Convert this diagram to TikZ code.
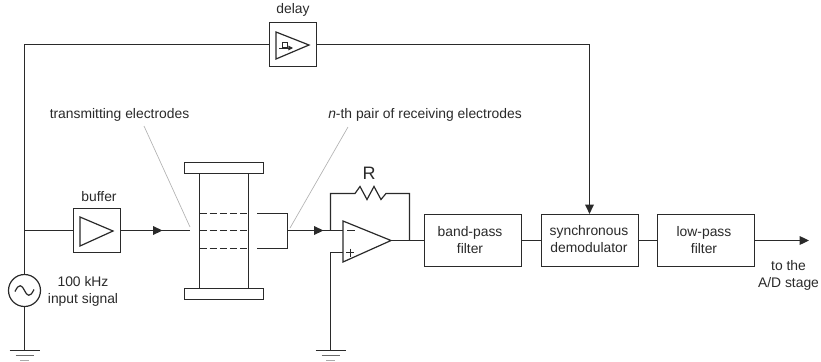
\documentclass[tikz,border=0pt]{standalone}
\usepackage{fontspec}
\setmainfont{Liberation Sans}
\usetikzlibrary{arrows.meta}
\definecolor{ink}{HTML}{2A2A2A}
\tikzset{
  wire/.style={draw=ink,line width=0.9pt},
  flow/.style={wire,-{Triangle[length=7pt,width=6.5pt]}},
  midarrow/.style={fill=ink,draw=none},
  leader/.style={draw=black!30,line width=0.5pt},
  blockbox/.style={draw=ink,line width=0.9pt,fill=white,inner sep=0pt,align=center,font=\fontsize{10.4pt}{12.8pt}\selectfont,text=ink},
  plate/.style={draw=ink,line width=0.9pt,fill=white,inner sep=0pt},
  lab/.style={inner sep=0pt,align=center,font=\fontsize{10.4pt}{12.8pt}\selectfont,text=ink},
  elec/.style={draw=ink,line width=0.9pt,dash pattern=on 5.4pt off 2.2pt},
}
\begin{document}
\begin{tikzpicture}[x=0.75pt,y=-0.75pt]
\useasboundingbox (0,0) rectangle (821,361);
% blocks
\node[blockbox,minimum width=35.25pt,minimum height=33pt] (buf) at (97,230.5) {};
\node[blockbox,minimum width=35.25pt,minimum height=33pt] (del) at (293,44.5) {};
\node[blockbox,minimum width=72.75pt,minimum height=39pt] (bp) at (473,240.5) {};
\node[blockbox,minimum width=72.75pt,minimum height=39pt] (sd) at (590,240.5) {};
\node[blockbox,minimum width=72.75pt,minimum height=39pt] (lp) at (706,240.5) {};
\node[lab] at (470,240.5) {band-pass\\filter};
\node[lab] at (589,239.5) {synchronous\\demodulator};
\node[lab] at (704,240.5) {low-pass\\filter};
% triangles
\draw[wire] (80,217) -- (113,231) -- (80,246) -- cycle;
\draw[wire] (276,32) -- (309,45) -- (276,59) -- cycle;
% delay symbol
\draw[draw=ink,line width=0.7pt] (282.5,42) rectangle (287.5,47);
\draw[draw=ink,line width=0.7pt,-{Triangle[length=3.5pt,width=3.5pt]}] (279,48) -- (293,48);
% source and grounds
\node[draw=ink,line width=0.9pt,circle,minimum size=24pt,inner sep=0pt] (src) at (24.5,290.5) {};
\draw[draw=ink,line width=0.9pt] (15,291.5) .. controls (19,283) and (22,285) .. (24.5,290.5) .. controls (27,296) and (30,298) .. (34,289.5);
\coordinate (gndA) at (24.5,350.5);
\coordinate (gndB) at (330.5,350.5);
\foreach \g in {gndA,gndB}{
  \draw[wire] ([xshift=-15pt*0.75]\g) -- ([xshift=15pt*0.75]\g);
  \draw[draw=ink!70,line width=0.8pt] ([xshift=-9pt*0.75,yshift=-5pt*0.75]\g) -- ([xshift=9pt*0.75,yshift=-5pt*0.75]\g);
  \draw[draw=ink!40,line width=0.8pt] ([xshift=-4.5pt*0.75,yshift=-10pt*0.75]\g) -- ([xshift=4.5pt*0.75,yshift=-10pt*0.75]\g);
}
% main wiring
\coordinate (ntop) at (24.5,44.5);
\coordinate (nbuf) at (24.5,230.5);
\coordinate (dtop) at (589.5,44.5);
\draw[wire] (src) -- (gndA);
\draw[wire] (src) -- (ntop) -- (del);
\draw[wire] (nbuf) -- (buf);
\draw[flow] (del) -- (dtop) -- (dtop |- sd.north);
% electrodes
\node[plate,minimum width=59.25pt,minimum height=8.25pt] (ptop) at (224,168) {};
\node[plate,minimum width=59.25pt,minimum height=8.25pt] (pbot) at (224,294) {};
\draw[wire] (199.5,173.5) -- (199.5,288.5);
\draw[wire] (248.5,173.5) -- (248.5,288.5);
\draw[elec] (199.5,213.5) -- (248.5,213.5);
\draw[elec] (199.5,230.5) -- (248.5,230.5);
\draw[elec] (199.5,248.5) -- (248.5,248.5);
\coordinate (rx) at (287.5,230.5);
\draw[wire] (257,213.5) -- (287.5,213.5) -- (287.5,248.5) -- (257,248.5);
% input to electrodes
\coordinate (tx) at (190,230.5);
\draw[wire] (buf) -- (tx);
\fill[midarrow] (162.5,230.5) -- (153,226) -- (153,235) -- cycle;
% op amp
\coordinate (opm) at (343,230.5);
\coordinate (opp) at (343,252.5);
\coordinate (opo) at (391,240.5);
\coordinate (fbL) at (330.5,230.5);
\coordinate (fbR) at (409.5,240.5);
\draw[wire] (rx) -- (opm);
\fill[midarrow] (323.5,230.5) -- (314,226) -- (314,235) -- cycle;
\draw[wire] (343,221) -- (opo) -- (343,262) -- cycle;
\draw[wire] (347,230.5) -- (355,230.5);
\draw[draw=ink,line width=0.7pt] (346,252.5) -- (354,252.5) (350,248.5) -- (350,256.5);
\draw[wire] (opo) -- (bp);
\draw[wire] (opp) -- (330.5,252.5) -- (gndB);
\draw[wire] (fbL) -- (330.5,193.5) -- (355,193.5) -- (360,186.5) -- (367,199.5) -- (374,186.5) -- (381,199.5) -- (386,193.5) -- (409.5,193.5) -- (fbR);
% chain
\draw[wire] (bp) -- (sd);
\draw[wire] (sd) -- (lp);
\coordinate (out) at (809,240.5);
\draw[flow] (lp) -- (out);
% leaders
\coordinate (la) at (144,126);
\coordinate (lb) at (190,227);
\coordinate (lc) at (348,127);
\coordinate (ld) at (290,228);
\draw[leader] (la) -- (lb);
\draw[leader] (lc) -- (ld);
% labels
\node[lab] at (99,196.5) {buffer};
\node[lab] at (293,10) {delay};
\node[lab] at (83,291.5) {100 kHz\\input signal};
\node[lab] at (119.5,115) {transmitting electrodes};
\node[lab] at (425,115) {\textit{n}-th pair of receiving electrodes};
\node[lab,font=\fontsize{13.5pt}{14pt}\selectfont] at (369,173) {R};
\node[lab] at (788.5,275.5) {to the\\A/D stage};
\end{tikzpicture}
\end{document}
